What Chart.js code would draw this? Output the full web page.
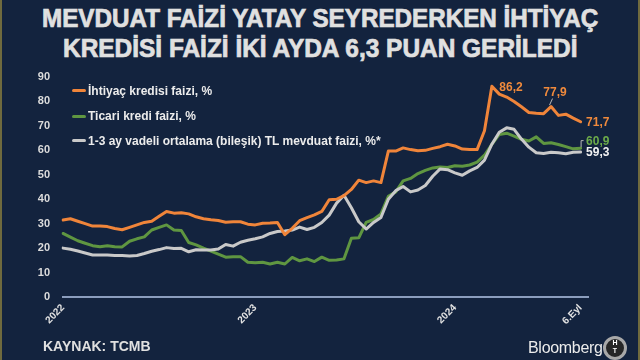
<!DOCTYPE html>
<html><head><meta charset="utf-8">
<script src="https://cdn.jsdelivr.net/npm/chart.js@4"></script>
<style>
html,body{margin:0;padding:0;}
body{width:640px;height:360px;background:#13233e;position:relative;overflow:hidden;font-family:"Liberation Sans",Arial,sans-serif;}
#frame{position:absolute;left:0;top:0;width:640px;height:360px;box-sizing:border-box;border-left:2px solid #6f6a3e;border-right:2px solid #6f6a3e;pointer-events:none;z-index:5}
.title{position:absolute;left:0;width:640px;text-align:center;color:#e0e0e0;font-weight:bold;font-size:25px;line-height:28px;white-space:nowrap;-webkit-text-stroke:0.7px #e0e0e0}
.title span{display:inline-block;transform-origin:center center}
#c{position:absolute;left:0;top:0}
.leg{position:absolute;left:72px;height:14px;line-height:14px;color:#ececec;font-weight:bold;font-size:12px;white-space:nowrap}
.leg i{position:absolute;left:0;top:5.5px;width:14px;height:3px;border-radius:1.5px}
.leg b{position:absolute;left:16px;top:0;font-weight:bold}
#src{position:absolute;left:43px;top:337px;color:#e0e0e0;font-weight:bold;font-size:14px;line-height:18px}
#bb{position:absolute;left:528px;top:338px;color:#ececec;font-size:16px;line-height:20px;letter-spacing:-0.3px}
#ht{position:absolute;left:603px;top:336px;width:18px;height:18px;border-radius:50%;border:3px solid #a8a8a8;background:#262626;color:#fff;font-weight:bold;font-size:7px;line-height:8px;text-align:center;box-sizing:content-box}
</style></head>
<body>
<div class="title" style="top:4px"><span id="t1">MEVDUAT FAİZİ YATAY SEYREDERKEN İHTİYAÇ</span></div>
<div class="title" style="top:34px"><span id="t2">KREDİSİ FAİZİ İKİ AYDA 6,3 PUAN GERİLEDİ</span></div>
<canvas id="c" width="640" height="360"></canvas>
<div id="legend"></div>
<div id="src">KAYNAK: TCMB</div>
<div id="bb">Bloomberg</div>
<div id="ht">H<br>T</div>
<div id="frame"></div>
<script>
// ---- data (biweekly readings, Jan 2022 .. 6 Sep 2024) ----
const seriesNames = ['İhtiyaç kredisi faizi, %', 'Ticari kredi faizi, %', '1-3 ay vadeli ortalama (bileşik) TL mevduat faizi, %*'];
const ihtiyac = [31.5,32,31,30,29,29,28.8,28,27.5,28.5, 29.5,30.5,31,33,35,34.3,34.5,34,32.8,32, 31.6,31.3,30.6,30.8,30.8,29.8,29.5,30.2,30.3,30.5, 25.5,28.1,31.2,32.5,33.6,35,39.8,40,41.5,44, 47.8,46.8,47.5,46.8,59.7,59.7,61,60.3,59.8,60, 60.8,61.5,62.5,61.8,60.5,60.3,60.3,68,86.2,83, 81.8,80,77.8,75.5,75.2,75,77.9,74.3,74.8,73.2,71.7, null];
const ticari = [26,24.5,23,22,21,20.6,21,20.6,20.5,22.8, 23.8,24.6,27.4,28.5,29.5,27.4,27.2,22.3,21.3,20, 18.8,17.5,16.3,16.5,16.5,14.2,14,14.2,13.5,14.2, 13.5,16.2,14.8,15.6,14.5,16.3,15,15.1,15.6,24, 24.2,30.5,31.7,34,41.2,43,47.5,48.5,50.5,51.8, 52.8,53.2,53,53.7,53.5,54,55.2,58,62.5,66.5, 67,65.8,64.5,63.8,65.5,62.8,63.1,62.4,61.5,60.6,60.9, null];
const mevduat = [20,19.5,18.8,18,17.2,17.2,17.2,17,17,16.8, 17,17.8,18.7,19.4,20.2,19.8,19.9,18.5,19.3,19.2, 19.2,19.6,21.5,20.8,22.4,23.2,23.8,24.6,26,26.8, 27,27.4,28.6,27.6,28.5,30.5,33.5,38.4,41.6,36.5, 30.8,27.8,30.5,32.5,40,43.5,45.2,43,43.8,45.6, 49.4,52.4,52.1,50.8,49.8,51.6,53,56,62.5,67.4, 69.2,68.6,64.6,61.3,59,58.7,59.2,59,58.6,59.2,59.3, null];
const tickLabels = ['2022','2023','2024','6.Eyl'];
const tickAt = [0,26,53,70];
const yTicks = [0,10,20,30,40,50,60,70,80,90];
// callouts: [series, point index]
const callouts = [[0,58],[0,66],[0,70],[1,70],[2,70]];

const colors = ['#f0853a','#5f9641','#c9c9c9'];
const labelColors = ['#f08a3c','#6cab4a','#f2f2f2'];

const categories = ihtiyac.map((_, i) => { const k = tickAt.indexOf(i); return k >= 0 ? tickLabels[k] : ''; });

// title fit
function fit(id, w){ const s=document.getElementById(id); s.style.transform='scaleX('+(w/s.offsetWidth)+')'; }
fit('t1', 556); fit('t2', 514);

// legend
const legYs=[90.5,116,140.5];
const lg=document.getElementById('legend');
seriesNames.forEach((n,k)=>{ const d=document.createElement('div'); d.className='leg'; d.style.top=(legYs[k]-7)+'px';
  d.innerHTML='<i style="background:'+colors[k]+'"></i><b>'+n+'</b>'; lg.appendChild(d); });

const fmt = v => String(v).replace('.', ',');
const calloutPlugin = {
  id:'callouts',
  afterDatasetsDraw(chart){
    const ctx=chart.ctx; ctx.save();
    ctx.font='bold 12px "Liberation Sans", Arial, sans-serif'; ctx.textBaseline='middle';
    const order=[0,2,1]; // dataset order used in chart
    callouts.forEach(([s,i],n)=>{
      const ds=order.indexOf(s);
      const p=chart.getDatasetMeta(ds).data[i];
      const vals=[ihtiyac,ticari,mevduat][s];
      const txt=fmt(vals[i]);
      ctx.fillStyle=labelColors[s];
      ctx.strokeStyle='#b9b9b9'; ctx.lineWidth=1;
      if(n===0){ ctx.textAlign='left'; ctx.fillText(txt,p.x+7.5,p.y+1.5); }
      else if(n===1){ ctx.textAlign='center'; ctx.fillText(txt,p.x+4,p.y-13.5);
        ctx.beginPath(); ctx.moveTo(p.x-1.5,p.y-1.5); ctx.lineTo(p.x+1.5,p.y-8); ctx.stroke(); }
      else if(n===2){ ctx.textAlign='left'; ctx.fillText(txt,p.x+5.5,p.y+0.5); }
      else if(n===3){ ctx.textAlign='left'; ctx.fillText(txt,p.x+5.5,p.y-6);
        ctx.beginPath(); ctx.moveTo(p.x+0.5,p.y-1); ctx.lineTo(p.x+0.5,p.y-7.5); ctx.lineTo(p.x+3,p.y-7.5); ctx.stroke(); }
      else { ctx.textAlign='left'; ctx.fillText(txt,p.x+5.5,p.y+1); }
    });
    ctx.restore();
  }
};

const mk=(data,k)=>({label:seriesNames[k],data,borderColor:colors[k],backgroundColor:colors[k],borderWidth:3,pointRadius:0,tension:0,borderJoinStyle:'round',borderCapStyle:'round'});

new Chart(document.getElementById('c'),{
  type:'line',
  data:{labels:categories,datasets:[mk(ihtiyac,0),mk(mevduat,2),mk(ticari,1)]},
  options:{
    responsive:false,animation:false,devicePixelRatio:1,
    layout:{padding:{top:77,left:0,right:52,bottom:0}},
    plugins:{legend:{display:false},tooltip:{enabled:false},title:{display:false}},
    scales:{
      x:{type:'category',offset:false,
        grid:{display:false,drawTicks:false},
        border:{display:true,color:'#8b9dbd',width:2},
        ticks:{autoSkip:false,minRotation:45,maxRotation:45,padding:5,color:'#e2e2e2',
          font:{family:'"Liberation Sans", Arial, sans-serif',size:10,weight:'bold'},
          callback:(v,i)=>categories[i]},
        afterFit:s=>{s.height=63;}},
      y:{min:0,max:90,
        grid:{display:false,drawTicks:false},border:{display:false},
        afterBuildTicks:s=>{s.ticks=yTicks.map(v=>({value:v}));},
        ticks:{padding:13,color:'#dcdcdc',font:{family:'"Liberation Sans", Arial, sans-serif',size:11,weight:'bold'}},
        afterFit:s=>{s.width=63;}}
    }
  },
  plugins:[calloutPlugin]
});
</script>
</body></html>
